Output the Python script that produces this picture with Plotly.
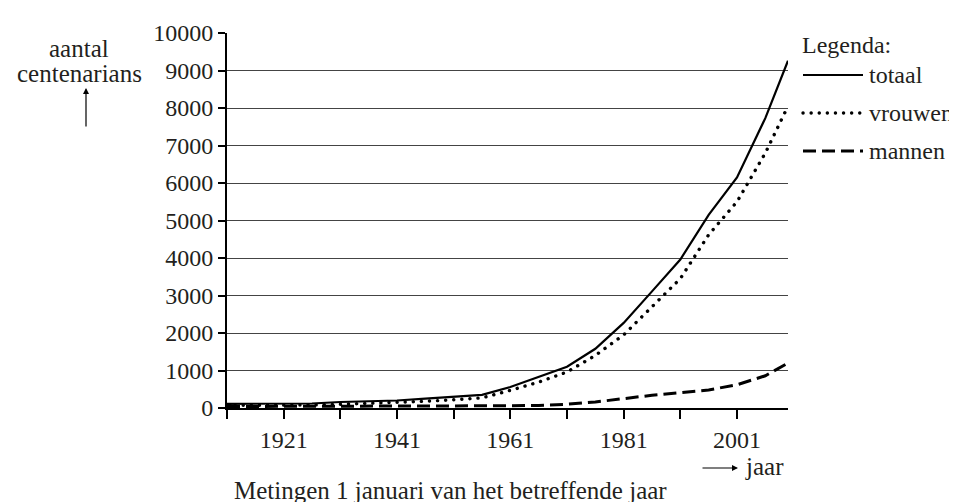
import plotly.graph_objects as go

# ---- data ----
years = [1911, 1916, 1921, 1926, 1931, 1936, 1941, 1946, 1951, 1956, 1961,
         1966, 1971, 1976, 1981, 1986, 1991, 1996, 2001, 2006, 2010]
totaal = [110, 110, 115, 120, 160, 180, 200, 250, 300, 350, 560,
          820, 1100, 1580, 2270, 3110, 3960, 5150, 6150, 7730, 9260]
vrouwen = [70, 70, 75, 80, 100, 120, 150, 180, 220, 270, 470,
           690, 960, 1400, 1950, 2700, 3450, 4620, 5500, 6800, 8050]
mannen = [40, 40, 40, 40, 50, 50, 50, 50, 60, 60, 60,
          70, 100, 160, 260, 340, 410, 480, 620, 860, 1200]

x_ticks = [1911, 1921, 1931, 1941, 1951, 1961, 1971, 1981, 1991, 2001]
x_labels = ["", "1921", "", "1941", "", "1961", "", "1981", "", "2001"]
y_ticks = list(range(0, 10001, 1000))
y_labels = [str(v) for v in y_ticks]

series_names = ["totaal", "vrouwen", "mannen"]

# ---- layout geometry ----
W, H = 957, 504
L, R, T, B = 219, 780, 25, 400
FONT = "Liberation Serif, Times New Roman, serif"
FS_TICK = 24
FS = 25
FS_LEG = 24
TXT = "#231f20"

SOLID = "solid"
DOTS = "0.1px,8px"
DASHES = "13px,6px"
styles = [SOLID, DOTS, DASHES]
widths = [2.2, 3.4, 3]


def px(xp):
    return (xp - L) / (R - L)


def py(yp):
    return (B - yp) / (B - T)


fig = go.Figure()
for name, vals, dash, w in zip(series_names, [totaal, vrouwen, mannen], styles, widths):
    fig.add_trace(go.Scatter(x=years, y=vals, mode="lines", name=name,
                             line=dict(color="black", width=w, dash=dash),
                             showlegend=False))

fig.update_layout(
    width=W, height=H,
    margin=dict(l=L, r=W - R, t=T, b=H - B, pad=0),
    paper_bgcolor="white", plot_bgcolor="white",
    font=dict(family=FONT, size=FS, color=TXT),
    xaxis=dict(range=[1911, 2010], tickvals=x_ticks, ticktext=x_labels,
               showgrid=False, zeroline=False, showline=True, linecolor="black",
               linewidth=2, ticks="outside", ticklen=9, tickwidth=1.5,
               tickcolor="black", tickfont=dict(family=FONT, size=FS_TICK, color=TXT)),
    yaxis=dict(range=[0, 10000], tickvals=y_ticks, ticktext=y_labels, showgrid=True,
               gridcolor="#444", gridwidth=1, zeroline=False, showline=True,
               linecolor="black", linewidth=2, ticks="outside", ticklen=7,
               tickwidth=1.5, tickcolor="black",
               tickfont=dict(family=FONT, size=FS_TICK, color=TXT)),
)

ann = []
# y-axis title
ann.append(dict(text="aantal", x=px(71), y=py(40), xref="paper", yref="paper",
                showarrow=False, xanchor="center", yanchor="middle", height=24))
ann.append(dict(text="centenarians", x=px(71), y=py(65), xref="paper", yref="paper",
                showarrow=False, xanchor="center", yanchor="middle", height=24))
ann.append(dict(text="", x=px(78), y=py(80), xref="paper", yref="paper",
                showarrow=True, ax=0, ay=40, arrowhead=2, arrowsize=1,
                arrowwidth=1.2, arrowcolor="black"))
# x-axis title
ann.append(dict(text="jaar", x=px(735), y=py(458), xref="paper", yref="paper",
                showarrow=False, xanchor="left", yanchor="middle"))
ann.append(dict(text="", x=px(730), y=py(460), xref="paper", yref="paper",
                showarrow=True, ax=-37, ay=0, arrowhead=2, arrowsize=1,
                arrowwidth=1.2, arrowcolor="black"))
# caption
ann.append(dict(text="Metingen 1 januari van het betreffende jaar",
                x=px(442), y=py(482), xref="paper", yref="paper",
                showarrow=False, xanchor="center", yanchor="middle", height=24))
# legend
ann.append(dict(text="Legenda:", x=px(792), y=py(37), xref="paper", yref="paper",
                showarrow=False, xanchor="left", yanchor="middle",
                font=dict(size=FS_LEG)))
shapes = []
for i, (name, dash, w) in enumerate(zip(series_names, styles, widths)):
    yy = 67 + i * 38
    shapes.append(dict(type="line", xref="paper", yref="paper",
                       x0=px(795), x1=px(855), y0=py(yy), y1=py(yy),
                       line=dict(color="black", width=w, dash=dash)))
    ann.append(dict(text=name, x=px(859), y=py(yy), xref="paper", yref="paper",
                    showarrow=False, xanchor="left", yanchor="middle",
                    font=dict(size=FS_LEG)))

fig.update_layout(annotations=ann, shapes=shapes)

post = """
var gd = document.getElementById('{plot_id}');
function roundDots(){
  document.querySelectorAll('path').forEach(function(p){
    var d = p.style.strokeDasharray || p.getAttribute('stroke-dasharray') || '';
    if (d.indexOf('0.1') === 0) { p.style.strokeLinecap = 'round'; }
  });
}
roundDots();
if (gd && gd.on) { gd.on('plotly_afterplot', roundDots); }
setTimeout(roundDots, 50);
"""
fig.write_html("out.html", post_script=post)
